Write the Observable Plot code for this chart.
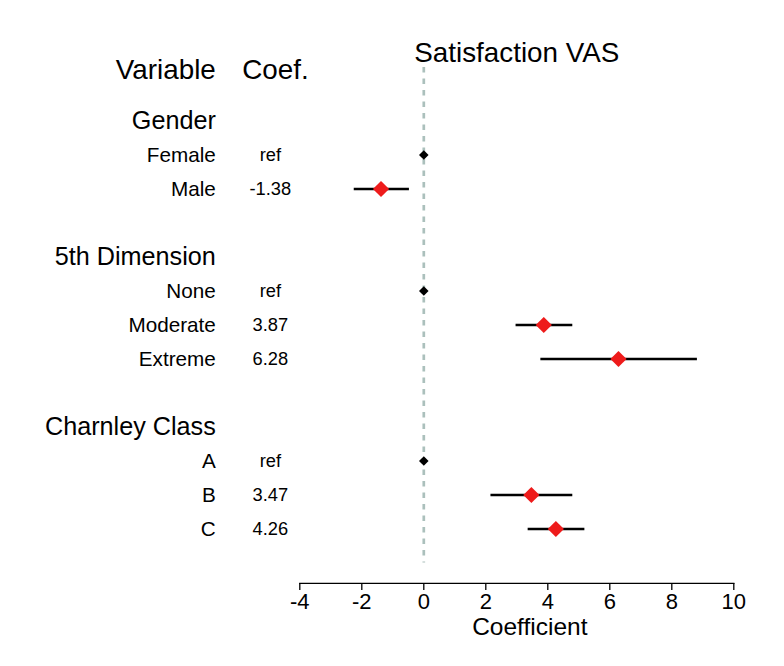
<!DOCTYPE html>
<html>
<head>
<meta charset="utf-8">
<script src="https://cdn.jsdelivr.net/npm/d3@7"></script>
<script src="https://cdn.jsdelivr.net/npm/@observablehq/plot@0.6"></script>
<style>
  html, body { margin: 0; padding: 0; background: #fff; }
  #chart { width: 784px; height: 666px; }
</style>
</head>
<body>
<div id="chart"></div>
<script>
// ---- data ----
const groups = ["Gender", "5th Dimension", "Charnley Class"];
const levels = ["Female", "Male", "None", "Moderate", "Extreme", "A", "B", "C"];
const levelGroup = ["Gender", "Gender", "5th Dimension", "5th Dimension", "5th Dimension", "Charnley Class", "Charnley Class", "Charnley Class"];
const coefs = [0, -1.38, 0, 3.87, 6.28, 0, 3.47, 4.26];
const lower = [0, -2.26, 0, 2.96, 3.76, 0, 2.15, 3.35];
const upper = [0, -0.48, 0, 4.79, 8.81, 0, 4.79, 5.18];
const coefLabels = ["ref", "-1.38", "ref", "3.87", "6.28", "ref", "3.47", "4.26"];
const xTicks = [-4, -2, 0, 2, 4, 6, 8, 10];
const title = "Satisfaction VAS";
const xLabel = "Coefficient";
const headers = ["Variable", "Coef."];

// ---- build rows ----
const groupRows = [];
const levelRows = [];
let r = 0;
for (const g of groups) {
  groupRows.push({label: g, row: r++});
  levels.forEach((l, i) => {
    if (levelGroup[i] === g) {
      levelRows.push({label: l, row: r++, coef: coefs[i], lo: lower[i], hi: upper[i], text: coefLabels[i], ref: coefLabels[i] === "ref"});
    }
  });
  r++;
}
const lastRow = r - 1; // blank row after last group
const headerRow = -1.5;
const est = levelRows.filter(d => !d.ref);
const refs = levelRows.filter(d => d.ref);

const font = "'Liberation Sans', Arial, Helvetica, sans-serif";
const W = 784, H = 666;

const chart = Plot.plot({
  width: W,
  height: H,
  marginLeft: 299.3,
  marginRight: 50.7,
  marginTop: 66.1,
  marginBottom: 83.1,
  style: {fontFamily: font, color: "#000", background: "#fff", overflow: "visible"},
  x: {domain: [-4, 10]},
  y: {domain: [-1.6, 13.6], reverse: true, axis: null},
  marks: [
    Plot.ruleX([0], {y1: -1.57, y2: lastRow, stroke: "#abc0bc", strokeWidth: 2.7, strokeDasharray: "5.5,6"}),
    Plot.frame({anchor: "bottom", stroke: "#000", strokeWidth: 1.3}),
    Plot.axisX({ticks: xTicks, tickSize: 7, stroke: "#000", strokeWidth: 1.3, text: null, label: null}),
    Plot.text(xTicks, {x: d => d, frameAnchor: "bottom", dy: 25.5, text: d => String(d), fontSize: 22, fill: "#000"}),
    Plot.text([xLabel], {frameAnchor: "bottom", dx: 13, dy: 52, text: d => d, fontSize: 24.5, fill: "#000"}),
    Plot.text([title], {y: () => -2, frameAnchor: "middle", text: d => d, fontSize: 27.8, fill: "#000"}),
    Plot.text([headers[0]], {y: () => headerRow, frameAnchor: "left", dx: -84, textAnchor: "end", text: d => d, fontSize: 27.8, fill: "#000"}),
    Plot.text([headers[1]], {y: () => headerRow, frameAnchor: "left", dx: -57.5, textAnchor: "start", text: d => d, fontSize: 27.8, fill: "#000"}),
    Plot.text(groupRows, {y: "row", frameAnchor: "left", dx: -84, textAnchor: "end", text: "label", fontSize: 25.2, fill: "#000"}),
    Plot.text(levelRows, {y: "row", frameAnchor: "left", dx: -84, textAnchor: "end", text: "label", fontSize: 20.7, fill: "#000"}),
    Plot.text(levelRows, {y: "row", frameAnchor: "left", dx: -29.5, textAnchor: "middle", text: "text", fontSize: 18.3, fill: "#000"}),
    Plot.link(est, {x1: "lo", x2: "hi", y1: "row", y2: "row", stroke: "#000", strokeWidth: 2.5}),
    Plot.dot(est, {x: "coef", y: "row", symbol: "diamond2", r: 7.3, fill: "#ee1b1b", stroke: "none"}),
    Plot.dot(refs, {x: "coef", y: "row", symbol: "diamond2", r: 4.3, fill: "#000", stroke: "none"})
  ]
});
document.getElementById("chart").appendChild(chart);
</script>
</body>
</html>
